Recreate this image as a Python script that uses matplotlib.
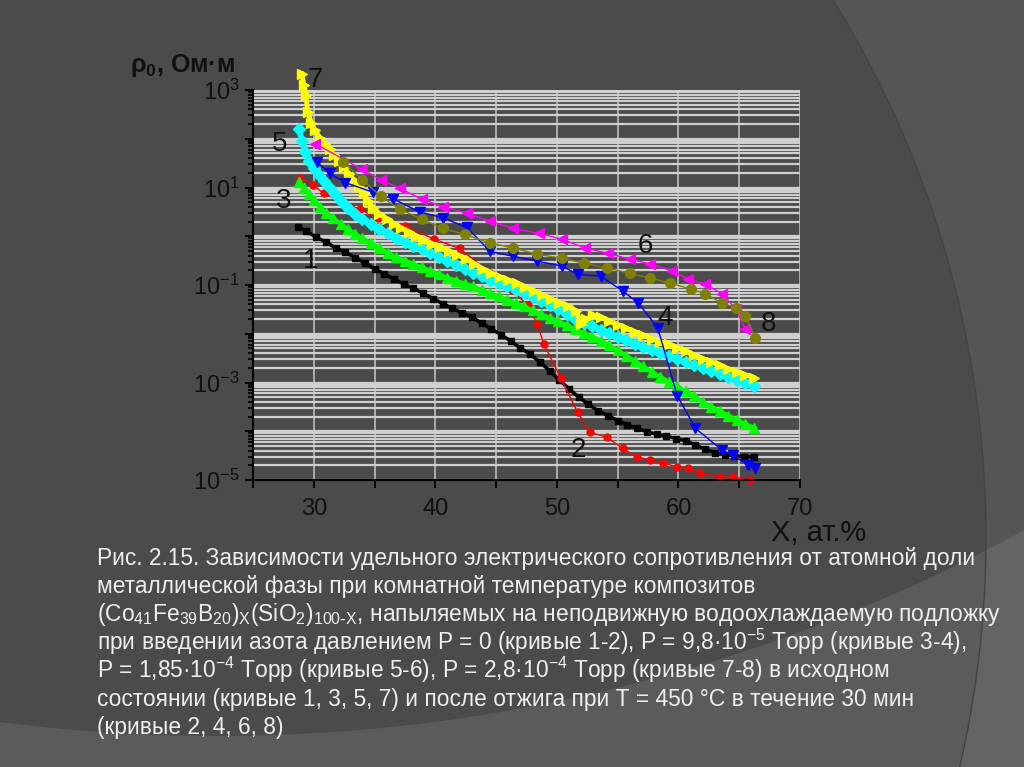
import numpy as np
import matplotlib
matplotlib.use('Agg')
import matplotlib.pyplot as plt
from matplotlib import ticker
from matplotlib.patches import Polygon

# --- data: X (at.%) and log10 of rho (Ohm*m) ---
x1 = [28.7, 29.4, 30.2, 31.0, 31.8, 32.6, 33.4, 34.2, 35.0, 35.8, 36.6, 37.4, 38.2, 39.0, 39.8, 40.6,
      41.4, 42.2, 43.0, 43.8, 44.6, 45.4, 46.2, 47.0, 47.8, 48.6, 49.4, 50.2, 51.0, 51.8, 52.6, 53.4,
      54.2, 55.0, 55.8, 56.6, 57.4, 58.2, 59.0, 59.8, 60.6, 61.4, 62.2, 63.0, 63.8, 64.6, 65.4, 66.2]
lg1 = [0.20, 0.10, -0.02, -0.12, -0.24, -0.33, -0.44, -0.55, -0.67, -0.77, -0.88, -0.98, -1.07, -1.17,
       -1.28, -1.38, -1.48, -1.57, -1.66, -1.78, -1.90, -2.02, -2.15, -2.29, -2.42, -2.58, -2.76, -2.95,
       -3.13, -3.30, -3.45, -3.58, -3.68, -3.78, -3.87, -3.94, -4.01, -4.06, -4.10, -4.15, -4.20, -4.28,
       -4.37, -4.44, -4.48, -4.50, -4.52, -4.53]

x2 = [28.9, 29.9, 30.8, 33.8, 35.3, 37.5, 39.9, 42.0, 44.5, 46.3, 47.6, 48.4, 48.9, 50.3, 51.7, 52.7,
      54.1, 55.4, 56.6, 57.7, 58.7, 59.9, 60.8, 61.8, 63.4, 64.5, 65.9]
lg2 = [1.20, 1.06, 0.88, 0.55, 0.37, 0.22, -0.06, -0.25, -0.75, -1.10, -1.42, -1.80, -2.20, -2.90,
       -3.61, -4.02, -4.12, -4.35, -4.53, -4.59, -4.65, -4.73, -4.76, -4.86, -4.94, -4.94, -5.00]

x3 = [28.8, 29.2, 29.6, 30.0, 30.5, 31.0, 31.6, 32.2, 32.8, 33.4, 34.0, 34.7, 35.4, 36.1, 36.8, 37.5,
      38.2, 38.9, 39.6, 40.3, 41.0, 41.7, 42.4, 43.1, 43.8, 44.5, 45.2, 45.9, 46.6, 47.3, 48.0, 48.7,
      49.4, 50.1, 50.8, 51.5, 52.2, 52.9, 53.6, 54.3, 55.0, 55.7, 56.4, 57.1, 57.8, 58.5, 59.2, 59.9,
      60.6, 61.3, 62.0, 62.7, 63.4, 64.1, 64.8, 65.5, 66.2]
lg3 = [1.12, 0.98, 0.86, 0.74, 0.60, 0.48, 0.37, 0.26, 0.15, 0.05, -0.04, -0.14, -0.24, -0.34, -0.43,
       -0.50, -0.57, -0.64, -0.71, -0.78, -0.85, -0.91, -0.97, -1.03, -1.10, -1.17, -1.23, -1.30, -1.37,
       -1.44, -1.52, -1.60, -1.67, -1.74, -1.82, -1.90, -1.98, -2.06, -2.14, -2.24, -2.34, -2.45, -2.56,
       -2.67, -2.78, -2.88, -2.98, -3.08, -3.18, -3.28, -3.40, -3.50, -3.58, -3.68, -3.76, -3.85, -3.93]

x4 = [30.3, 31.3, 32.6, 34.9, 36.5, 38.7, 40.6, 42.6, 44.5, 46.4, 48.4, 50.4, 51.7, 53.6, 55.4, 56.7,
      58.3, 59.9, 61.4, 63.6, 64.5, 65.7, 66.3]
lg4 = [1.52, 1.29, 1.10, 0.90, 0.77, 0.50, 0.38, 0.18, -0.31, -0.41, -0.51, -0.61, -0.78, -0.82, -1.12,
       -1.37, -1.88, -3.27, -3.94, -4.39, -4.49, -4.69, -4.75]

x5 = [28.8, 29.0, 29.3, 29.6, 30.0, 30.4, 30.8, 31.3, 31.8, 32.3, 32.8, 33.4, 34.0, 34.7, 35.4, 36.1,
      36.8, 37.5, 38.2, 38.9, 39.6, 40.3, 41.0, 41.7, 42.4, 43.1, 43.8, 44.5, 45.2, 45.9, 46.6, 47.3,
      48.0, 48.7, 49.4, 50.1, 50.8, 51.5, 52.2, 52.9, 53.6, 54.3, 55.0, 55.7, 56.4, 57.1, 57.8, 58.5,
      59.2, 59.9, 60.6, 61.3, 62.0, 62.7, 63.4, 64.1, 64.8, 65.5, 66.2]
lg5 = [2.20, 1.95, 1.72, 1.55, 1.40, 1.26, 1.13, 0.98, 0.84, 0.70, 0.58, 0.46, 0.36, 0.25, 0.15, 0.06,
       -0.03, -0.11, -0.19, -0.27, -0.35, -0.43, -0.51, -0.59, -0.67, -0.75, -0.82, -0.89, -0.96, -1.03,
       -1.10, -1.17, -1.25, -1.33, -1.41, -1.50, -1.60, -1.70, -1.78, -1.85, -1.92, -1.99, -2.06, -2.13,
       -2.20, -2.27, -2.34, -2.40, -2.46, -2.52, -2.58, -2.64, -2.70, -2.76, -2.83, -2.89, -2.95, -3.02,
       -3.08]

x6 = [30.1, 34.0, 35.5, 37.1, 38.9, 40.6, 42.6, 44.5, 46.4, 48.5, 50.4, 52.3, 54.2, 56.0, 57.7, 59.5,
      60.8, 62.2, 63.6, 64.7, 65.5]
lg6 = [1.90, 1.37, 1.16, 0.98, 0.76, 0.61, 0.47, 0.31, 0.16, 0.06, -0.06, -0.24, -0.35, -0.47, -0.57,
       -0.71, -0.88, -0.98, -1.18, -1.49, -1.90]

x7 = [29.0, 29.2, 29.35, 29.5, 29.8, 30.1, 30.5, 30.9, 31.3, 31.7, 32.1, 32.5, 32.9, 33.3, 33.7, 34.1,
      34.5, 34.9, 35.4, 36.0, 36.6, 37.2, 37.8, 38.4, 39.0, 39.7, 40.4, 41.1, 41.8, 42.5, 43.2, 43.9,
      44.6, 45.3, 46.0, 46.7, 47.4, 48.1, 48.8, 49.5, 50.2, 50.9, 51.6, 52.0, 52.4, 53.0, 53.6, 54.3,
      55.0, 55.7, 56.4, 57.1, 57.8, 58.5, 59.2, 59.9, 60.6, 61.3, 62.0, 62.7, 63.4, 64.1, 64.8, 65.5,
      66.2]
lg7 = [3.33, 3.10, 2.90, 2.55, 2.33, 2.18, 2.02, 1.90, 1.78, 1.66, 1.54, 1.42, 1.28, 1.15, 1.02, 0.88,
       0.72, 0.58, 0.46, 0.36, 0.26, 0.17, 0.08, 0.00, -0.07, -0.15, -0.22, -0.30, -0.38, -0.46, -0.56,
       -0.68, -0.76, -0.84, -0.90, -0.96, -1.04, -1.12, -1.20, -1.28, -1.36, -1.44, -1.53, -1.80, -1.70,
       -1.62, -1.66, -1.74, -1.82, -1.89, -1.96, -2.03, -2.10, -2.16, -2.22, -2.29, -2.36, -2.44, -2.51,
       -2.58, -2.65, -2.72, -2.78, -2.84, -2.90]

x8 = [32.4, 34.0, 35.5, 37.1, 38.9, 40.6, 42.4, 44.5, 46.4, 48.4, 50.4, 52.2, 54.1, 56.0, 57.7, 59.3,
      61.0, 62.2, 63.6, 64.7, 65.5, 66.3]
lg8 = [1.53, 1.16, 0.82, 0.55, 0.35, 0.16, 0.04, -0.14, -0.24, -0.37, -0.45, -0.55, -0.65, -0.76, -0.86,
       -0.96, -1.08, -1.18, -1.37, -1.47, -1.63, -2.08]

# curve numbers and where they sit
lbl_txt = ['7', '5', '3', '1', '6', '4', '8', '2']
lbl_x = [30.1, 27.2, 27.55, 29.7, 57.3, 58.9, 67.4, 51.75]
lbl_lg = [3.20, 1.90, 0.73, -0.51, -0.20, -1.67, -1.80, -4.39]

caption = [
    "Рис. 2.15. Зависимости удельного электрического сопротивления от атомной доли",
    "металлической фазы при комнатной температуре композитов",
    r"(Co$\mathregular{_{41}}$Fe$\mathregular{_{39}}$B$\mathregular{_{20}}$)$\mathregular{_X}$"
    r"(SiO$\mathregular{_2}$)$\mathregular{_{100\text{-}X}}$, напыляемых на неподвижную водоохлаждаемую подложку",
    r"при введении азота давлением Р = 0 (кривые 1-2), Р = 9,8·10$\mathregular{^{-5}}$ Торр (кривые 3-4),",
    r"Р = 1,85·10$\mathregular{^{-4}}$ Торр (кривые 5-6), Р = 2,8·10$\mathregular{^{-4}}$ Торр (кривые 7-8) в исходном",
    "состоянии (кривые 1, 3, 5, 7) и после отжига при Т = 450 °С в течение 30 мин",
    "(кривые 2, 4, 6, 8)",
]

plt.rcParams['font.family'] = ['Liberation Sans', 'DejaVu Sans']

W, H = 1024, 767
fig = plt.figure(figsize=(W / 100, H / 100), dpi=100)
fig.patch.set_facecolor('#4b4b4b')

# background swooshes of the slide
yy = np.linspace(0, H, 200)
xx = -33 + np.sqrt(1019 ** 2 - (yy - 537) ** 2)
pts = [(a / W, 1 - b / H) for a, b in zip(xx, yy)] + [(1, 0), (1, 1)]
fig.add_artist(Polygon(pts, closed=True, transform=fig.transFigure, facecolor='white',
                       alpha=0.06, edgecolor='none', zorder=-10))
fig.add_artist(plt.Line2D(xx / W, 1 - yy / H, transform=fig.transFigure, color='#444444',
                          lw=1.0, zorder=-9))
xb = np.linspace(0, W, 200)
ybot = -949 + np.sqrt(1685 ** 2 - (xb - 217) ** 2)
pts = [(a / W, 1 - b / H) for a, b in zip(xb, ybot)] + [(1, 0), (0, 0)]
fig.add_artist(Polygon(pts, closed=True, transform=fig.transFigure, facecolor='white',
                       alpha=0.09, edgecolor='none', zorder=-10))

ax = fig.add_axes([253 / W, 1 - 480 / H, 547 / W, 390 / H])
ax.set_facecolor('none')
ax.set_yscale('log')
ax.set_xlim(25, 70)
ax.set_ylim(1e-5, 1e3)

ax.yaxis.set_major_locator(ticker.LogLocator(base=10, numticks=20))
ax.yaxis.set_minor_locator(ticker.LogLocator(base=10, subs=np.arange(2, 10), numticks=20))
ax.yaxis.set_major_formatter(ticker.FuncFormatter(
    lambda v, p: r'$\mathregular{10^{%d}}$' % round(np.log10(v)) if round(np.log10(v)) % 2 else ''))
ax.yaxis.set_minor_formatter(ticker.NullFormatter())
ax.xaxis.set_major_locator(ticker.MultipleLocator(10))
ax.xaxis.set_minor_locator(ticker.MultipleLocator(5))

ax.yaxis.grid(True, which='both', color='#cfcfcf', lw=1.6)
ax.xaxis.grid(True, which='both', color='#c8c8c8', lw=1.1)
ax.set_axisbelow(True)

for s in ['top', 'right']:
    ax.spines[s].set_visible(False)
for s in ['left', 'bottom']:
    ax.spines[s].set_color('black')
    ax.spines[s].set_linewidth(1.5)
ax.tick_params(axis='both', which='major', colors='black', length=6, width=1.3,
               labelsize=17, labelcolor='#111111')
ax.tick_params(axis='x', which='major', pad=7)
ax.tick_params(axis='y', which='minor', length=3.5, width=1.2, color='black')
ax.tick_params(axis='x', which='minor', length=6, width=1.3, color='black')

curves = [
    (x1, lg1, 'black', 's', 5, 2.5),
    (x2, lg2, '#ff0000', 'o', 5, 1.0),
    (x3, lg3, '#00ff00', '^', 7, 3.0),
    (x5, lg5, '#00ffff', 'D', 6, 4.0),
    (x7, lg7, '#ffff00', '>', 7, 3.5),
    (x4, lg4, '#0000ff', 'v', 7, 1.0),
    (x6, lg6, '#ff00ff', '<', 7, 1.0),
    (x8, lg8, '#808000', 'o', 7, 1.0),
]
for xs, lgs, c, m, ms, lw in curves:
    ax.plot(xs, np.power(10.0, lgs), color=c, marker=m, ms=ms, lw=lw, mec=c, mfc=c,
            clip_on=False)

for t, lx, ly in zip(lbl_txt, lbl_x, lbl_lg):
    ax.text(lx, 10 ** ly, t, fontsize=20, color='#111111', ha='center', va='center')

fig.text(130 / W, 1 - 72 / H, r'ρ$\mathregular{_0}$, Ом·м', fontsize=18, fontweight='bold',
         color='#111111', ha='left', va='baseline')
fig.text(866 / W, 1 - 541 / H, 'X, ат.%', fontsize=21, color='#111111', ha='right', va='baseline')

for i, line in enumerate(caption):
    fig.text(97 / W, 1 - (565 + 28.2 * i) / H, line, fontsize=16.4, color='#eeeeee',
             ha='left', va='baseline')

fig.savefig('out.png', dpi=100, facecolor=fig.get_facecolor())
